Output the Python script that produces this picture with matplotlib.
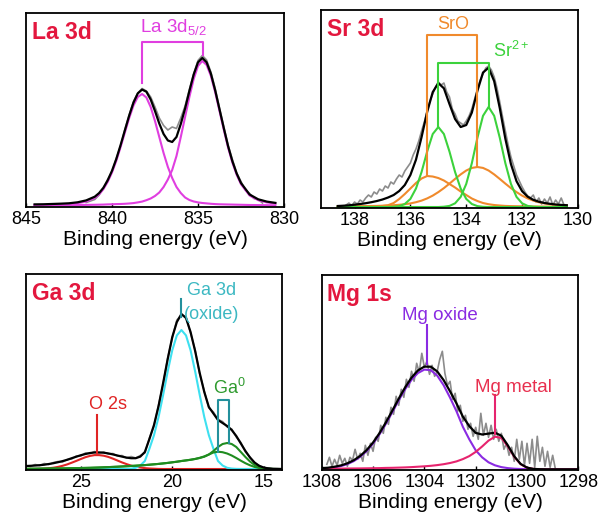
import numpy as np
import matplotlib
matplotlib.use("Agg")
import matplotlib.pyplot as plt

plt.rcParams['font.family'] = ['Liberation Sans', 'DejaVu Sans']
plt.rcParams['mathtext.fontset'] = 'custom'
plt.rcParams['mathtext.rm'] = 'Liberation Sans'
plt.rcParams['mathtext.it'] = 'Liberation Sans:italic'

# ---------------- La 3d ----------------
la_e = [844.5, 844.0, 843.5, 843.0, 842.5, 842.0, 841.5, 841.0, 840.75, 840.5,
        840.25, 840.0, 839.75, 839.5, 839.25, 839.0, 838.75, 838.5, 838.25, 838.0,
        837.75, 837.5, 837.25, 837.0, 836.75, 836.5, 836.25, 836.0, 835.75, 835.5,
        835.25, 835.0, 834.75, 834.5, 834.25, 834.0, 833.75, 833.5, 833.25, 833.0,
        832.75, 832.5, 832.0, 831.5, 831.0, 830.5]
la_peak1 = [1.0, 1.1, 1.3, 1.6, 1.9, 2.8, 4.5, 8.1, 11.6, 16.8,
            24.1, 33.5, 45.1, 58.9, 73.5, 87.9, 100.5, 109.0, 112.0, 108.5,
            99.0, 85.0, 69.0, 53.0, 39.0, 28.0, 19.0, 13.0, 8.5, 6.0,
            4.5, 3.6, 3.0, 2.6, 2.2, 1.9, 1.7, 1.6, 1.5, 1.4,
            1.3, 1.2, 1.0, 0.9, 0.8, 0.6]
la_peak2 = [0.6, 0.6, 0.7, 0.7, 0.8, 0.9, 1.1, 1.2, 1.3, 1.4,
            1.6, 1.7, 1.9, 2.0, 2.2, 2.5, 2.9, 3.6, 4.4, 5.8,
            7.5, 10.0, 13.5, 19.0, 26.5, 36.0, 50.0, 69.0, 89.0, 109.0,
            127.0, 140.0, 145.0, 141.1, 130.1, 113.8, 95.1, 76.3, 58.4, 43.4,
            31.2, 21.8, 10.5, 5.8, 3.6, 2.5]
la_fit = [1.6, 1.7, 2.0, 2.3, 2.7, 3.7, 5.6, 9.3, 12.9, 18.2,
          25.7, 35.2, 47.0, 60.9, 75.7, 90.4, 103.4, 112.6, 116.4, 114.3,
          106.5, 95.0, 82.5, 72.0, 65.5, 64.0, 69.0, 82.0, 97.5, 115.0,
          131.5, 143.6, 148.0, 143.7, 132.3, 115.7, 96.8, 77.9, 59.9, 44.8,
          32.5, 23.0, 11.5, 6.7, 4.4, 3.1]
la_raw_e = [841.5, 841.25, 841.0, 840.75, 840.5, 840.25, 840.0, 839.75, 839.5, 839.25,
            839.0, 838.75, 838.5, 838.25, 838.0, 837.75, 837.5, 837.25, 837.0, 836.75,
            836.5, 836.25, 836.0, 835.75, 835.5, 835.25, 835.0, 834.75, 834.5, 834.25,
            834.0, 833.75, 833.5, 833.25, 833.0, 832.75, 832.5, 832.25, 832.0, 831.75,
            831.5, 831.25]
la_raw = [3.5, 5.0, 6.5, 11.0, 17.5, 26.5, 34.0, 47.5, 60.0, 76.5,
          91.0, 104.5, 113.0, 117.5, 115.0, 109.0, 99.0, 88.0, 80.5, 76.0,
          79.0, 77.5, 88.0, 100.0, 116.5, 132.0, 145.5, 150.5, 146.0, 134.0,
          117.5, 98.0, 79.5, 61.0, 46.5, 33.0, 24.5, 16.0, 12.5, 7.5,
          6.5, 3.0]

# ---------------- Sr 3d ----------------
sr_e = [138.6, 138.4, 138.2, 138.0, 137.8, 137.6, 137.4, 137.2, 137.0, 136.8,
        136.6, 136.4, 136.2, 136.0, 135.8, 135.6, 135.4, 135.2, 135.0, 134.8,
        134.6, 134.4, 134.2, 134.0, 133.8, 133.6, 133.4, 133.2, 133.0, 132.8,
        132.6, 132.4, 132.2, 132.0, 131.8, 131.6, 131.4, 131.2, 131.0, 130.8,
        130.6, 130.4]
sr_sro1 = [0.3, 0.3, 0.4, 0.4, 0.5, 0.5, 0.6, 0.7, 1.0, 1.8,
           4.0, 8.0, 13.0, 18.5, 24.0, 28.5, 31.0, 30.5, 29.0, 26.5,
           23.0, 19.5, 15.5, 12.0, 8.5, 6.0, 4.0, 2.8, 2.0, 1.5,
           1.1, 0.9, 0.8, 0.7, 0.6, 0.5, 0.5, 0.4, 0.4, 0.3,
           0.3, 0.3]
sr_sro2 = [0.6, 0.7, 0.7, 0.8, 0.8, 0.9, 1.0, 1.1, 1.3, 1.5,
           1.8, 2.2, 2.8, 3.6, 4.8, 6.4, 8.6, 11.4, 14.9, 18.9,
           23.4, 28.1, 32.6, 36.5, 39.1, 40.0, 39.1, 36.5, 32.6, 28.1,
           23.4, 18.9, 14.9, 11.4, 8.6, 6.4, 4.8, 3.6, 2.8, 2.2,
           1.8, 1.5]
sr_sr1 = [0, 0, 0, 0, 0, 0, 0, 0, 0, 0,
          0.2, 0.9, 3.0, 8.1, 18.5, 35.0, 55.4, 73.0, 80.0, 73.0,
          55.4, 35.0, 18.5, 8.1, 3.0, 0.9, 0.2, 0, 0, 0,
          0, 0, 0, 0, 0, 0, 0, 0, 0, 0,
          0, 0]
sr_sr2 = [0, 0, 0, 0, 0, 0, 0, 0, 0, 0,
          0, 0, 0, 0, 0, 0, 0, 0, 0, 0.3,
          1.1, 3.7, 10.1, 23.1, 43.8, 69.3, 91.2, 100.0, 91.2, 69.3,
          43.8, 23.1, 10.1, 3.7, 1.1, 0.3, 0, 0, 0, 0,
          0, 0]
sr_fit = [1.0, 1.3, 1.7, 2.3, 3.0, 3.8, 4.8, 6.0, 7.5, 9.5,
          12.0, 16.0, 22.0, 32.0, 47.3, 69.9, 95.0, 114.9, 123.9, 118.7,
          102.9, 88.0, 80.0, 82.0, 94.4, 116.2, 134.5, 139.3, 125.8, 98.9,
          68.3, 42.9, 25.8, 15.8, 10.3, 7.2, 5.3, 4.0, 3.2, 2.5,
          2.1, 1.8]
sr_raw_e = [138.3, 138.2, 138.1, 138.0, 137.9, 137.8, 137.7, 137.6, 137.5, 137.4,
            137.3, 137.2, 137.1, 137.0, 136.9, 136.8, 136.7, 136.6, 136.5, 136.4,
            136.3, 136.2, 136.1, 136.0, 135.9, 135.8, 135.7, 135.6, 135.5, 135.4,
            135.3, 135.2, 135.1, 135.0, 134.9, 134.8, 134.7, 134.6, 134.5, 134.4,
            134.3, 134.2, 134.1, 134.0, 133.9, 133.8, 133.7, 133.6, 133.5, 133.4,
            133.3, 133.2, 133.1, 133.0, 132.9, 132.8, 132.7, 132.6, 132.5, 132.4,
            132.3, 132.2, 132.1, 132.0, 131.9, 131.8, 131.7, 131.6, 131.5, 131.4,
            131.3, 131.2, 131.1, 131.0, 130.9, 130.8, 130.7, 130.6, 130.5]
sr_raw = [2, 4, 1, 5, 3, 7, 5, 9, 12, 10,
          15, 13, 18, 16, 21, 19, 25, 23, 28, 32,
          30, 36, 40, 44, 52, 58, 66, 76, 85, 96,
          106, 113, 120, 125, 122, 124, 115, 110, 98, 93,
          86, 84, 82, 86, 91, 98, 108, 118, 127, 133,
          139, 141, 137, 130, 119, 105, 90, 76, 62, 50,
          41, 32, 26, 20, 15, 11, 9, 12, 5, 9,
          3, 8, 4, 10, 2, 7, 3, 9, 2]

# ---------------- Ga 3d ----------------
ga_e = [28.0, 27.75, 27.5, 27.25, 27.0, 26.75, 26.5, 26.25, 26.0, 25.75,
        25.5, 25.25, 25.0, 24.75, 24.5, 24.25, 24.0, 23.75, 23.5, 23.25,
        23.0, 22.75, 22.5, 22.25, 22.0, 21.75, 21.5, 21.25, 21.0, 20.75,
        20.5, 20.25, 20.0, 19.75, 19.5, 19.25, 19.0, 18.75, 18.5, 18.25,
        18.0, 17.75, 17.5, 17.25, 17.0, 16.75, 16.5, 16.25, 16.0, 15.75,
        15.5, 15.25, 15.0, 14.75, 14.5, 14.25, 14.0]
ga_o2s = [0.0, 0.1, 0.1, 0.2, 0.4, 0.8, 1.3, 2.1, 3.2, 4.6,
          6.3, 8.1, 10.0, 11.8, 13.1, 13.9, 13.9, 13.3, 12.1, 10.4,
          8.5, 6.6, 4.9, 3.4, 2.3, 1.5, 0.9, 0.5, 0.3, 0.1,
          0, 0, 0, 0, 0, 0, 0, 0, 0, 0,
          0, 0, 0, 0, 0, 0, 0, 0, 0, 0,
          0, 0, 0, 0, 0, 0, 0]
ga_oxide = [0, 0, 0, 0, 0, 0, 0, 0, 0, 0,
            0, 0, 0, 0, 0, 0, 0, 0, 0, 0,
            0, 0, 0.1, 0.4, 1.2, 3.5, 8.0, 20.3, 33.8, 52.0,
            74.1, 97.6, 118.8, 133.6, 139.0, 133.6, 118.8, 97.6, 74.1, 52.0,
            33.8, 20.3, 8.0, 3.5, 1.2, 0.4, 0.1, 0, 0, 0,
            0, 0, 0, 0, 0, 0, 0]
ga_metal_a = [0.2, 0.25, 0.3, 0.35, 0.4, 0.45, 0.5, 0.55, 0.6, 0.7,
              0.8, 0.9, 1.0, 1.1, 1.2, 1.35, 1.5, 1.7, 1.9, 2.1,
              2.3, 2.55, 2.8, 3.05, 3.3, 3.6, 3.9, 4.3, 4.7, 5.1,
              5.6, 6.1, 6.7, 7.3, 8.0, 8.6, 9.2, 10.0, 11.0, 12.3,
              14.5, 18.0, 22.0, 25.0, 26.0, 25.0, 22.0, 17.0, 12.0, 7.5,
              4.0, 2.0, 0.8, 0.3, 0.1, 0, 0]
ga_metal_b = [0.2, 0.25, 0.3, 0.35, 0.4, 0.45, 0.5, 0.55, 0.6, 0.7,
              0.8, 0.9, 1.0, 1.1, 1.2, 1.35, 1.5, 1.7, 1.9, 2.1,
              2.3, 2.55, 2.8, 3.05, 3.3, 3.6, 3.9, 4.3, 4.7, 5.1,
              5.6, 6.1, 6.7, 7.3, 8.0, 8.6, 9.3, 10.1, 11.2, 12.6,
              14.5, 16.5, 17.3, 16.8, 15.5, 13.5, 11.0, 8.3, 5.8, 3.7,
              2.1, 1.0, 0.4, 0.1, 0, 0, 0]
ga_fit = [3.0, 3.2, 3.5, 3.8, 4.3, 5.0, 5.8, 6.8, 7.9, 9.2,
          10.8, 12.3, 13.8, 15.0, 16.0, 16.5, 16.6, 16.3, 15.6, 14.6,
          13.5, 12.4, 11.4, 10.8, 10.8, 12.4, 17.0, 30.0, 44.0, 63.0,
          86.0, 110.0, 132.0, 147.0, 155.0, 151.0, 137.0, 118.0, 96.0, 77.0,
          62.0, 55.5, 49.0, 46.0, 43.0, 39.0, 33.0, 25.5, 18.0, 11.5,
          6.5, 3.2, 1.5, 0.6, 0.2, 0, 0]
ga_raw = [3.5, 2.5, 4.5, 3.5, 5.5, 4.5, 6.5, 7.5, 7.0, 9.5,
          10.0, 13.0, 13.0, 16.0, 15.5, 17.5, 16.0, 17.0, 15.0, 15.5,
          13.0, 13.5, 11.0, 12.5, 11.0, 13.5, 16.0, 31.0, 43.0, 64.0,
          85.0, 111.0, 131.0, 149.0, 154.0, 152.0, 136.0, 119.0, 95.0, 78.0,
          61.0, 57.0, 49.5, 47.5, 42.0, 40.0, 32.0, 26.5, 17.0, 12.0,
          6.0, 3.5, 1.0, 1.2, 0.2, 0.5, 0]

# ---------------- Mg 1s ----------------
mg_e = [1308.0, 1307.75, 1307.5, 1307.25, 1307.0, 1306.75, 1306.5, 1306.25, 1306.0, 1305.75,
        1305.5, 1305.25, 1305.0, 1304.75, 1304.5, 1304.25, 1304.0, 1303.75, 1303.5, 1303.25,
        1303.0, 1302.75, 1302.5, 1302.25, 1302.0, 1301.75, 1301.5, 1301.25, 1301.0, 1300.75,
        1300.5, 1300.25, 1300.0, 1299.75, 1299.5, 1299.25, 1299.0, 1298.75, 1298.5, 1298.25,
        1298.0]
mg_oxide = [0.6, 1.0, 1.9, 3.2, 5.2, 8.2, 12.5, 18.2, 25.7, 34.9,
            45.5, 57.1, 68.9, 80.0, 89.5, 96.3, 99.7, 99.1, 93.7, 84.1,
            71.7, 58.1, 42.5, 30.0, 19.0, 12.0, 7.0, 4.0, 2.2, 1.2,
            0.6, 0.3, 0.1, 0, 0, 0, 0, 0, 0, 0,
            0]
mg_metal = [0.55, 0.6, 0.65, 0.7, 0.8, 0.85, 0.9, 1.0, 1.1, 1.2,
            1.4, 1.5, 1.7, 1.9, 2.2, 2.6, 3.0, 3.5, 4.2, 5.1,
            6.3, 7.9, 10.2, 13.2, 17.4, 22.8, 28.7, 32.6, 31.4, 22.9,
            12.5, 5.1, 1.6, 0.4, 0.1, 0, 0, 0, 0, 0,
            0]
mg_fit = [1.2, 1.6, 2.6, 3.9, 6.0, 9.1, 13.4, 19.2, 26.8, 36.1,
          46.9, 58.6, 70.6, 81.9, 91.7, 98.9, 102.7, 102.6, 97.9, 89.2,
          78.0, 66.0, 52.7, 43.2, 36.4, 34.8, 35.7, 36.6, 33.6, 24.1,
          13.1, 5.4, 1.7, 0.4, 0.1, 0, 0, 0, 0, 0,
          0]
mg_raw_e = [1307.8, 1307.7, 1307.6, 1307.5, 1307.4, 1307.3, 1307.2, 1307.1, 1307.0, 1306.9,
            1306.8, 1306.7, 1306.6, 1306.5, 1306.4, 1306.3, 1306.2, 1306.1, 1306.0, 1305.9,
            1305.8, 1305.7, 1305.6, 1305.5, 1305.4, 1305.3, 1305.2, 1305.1, 1305.0, 1304.9,
            1304.8, 1304.7, 1304.6, 1304.5, 1304.4, 1304.3, 1304.2, 1304.1, 1304.0, 1303.9,
            1303.8, 1303.7, 1303.6, 1303.5, 1303.4, 1303.3, 1303.2, 1303.1, 1303.0, 1302.9,
            1302.8, 1302.7, 1302.6, 1302.5, 1302.4, 1302.3, 1302.2, 1302.1, 1302.0, 1301.9,
            1301.8, 1301.7, 1301.6, 1301.5, 1301.4, 1301.3, 1301.2, 1301.1, 1301.0, 1300.9,
            1300.8, 1300.7, 1300.6, 1300.5, 1300.4, 1300.3, 1300.2, 1300.1, 1300.0, 1299.9,
            1299.8, 1299.7, 1299.6, 1299.5, 1299.4, 1299.3, 1299.2, 1299.1, 1299.0, 1298.9]
mg_raw = [5, 12, 3, 10, 4, 14, 6, 11, 3, 12,
          9, 20, 10, 16, 8, 24, 14, 26, 18, 32,
          28, 44, 36, 52, 45, 62, 55, 73, 64, 80,
          72, 90, 82, 98, 88, 106, 97, 116, 102, 108,
          95, 104, 93, 98, 110, 118, 96, 84, 88, 70,
          76, 58, 64, 48, 54, 40, 46, 33, 42, 30,
          56, 34, 46, 32, 44, 30, 40, 28, 36, 20,
          26, 14, 22, 8, 30, 10, 28, 4, 26, 6,
          30, 2, 33, 8, 22, 3, 18, 2, 14, 1]

TITLE_RED = '#e3173e'
RAW_GREY = '#8c8c8c'


def setup(ax, xlim, ticks, ylim, title):
    ax.set_xlim(*xlim)
    ax.set_ylim(*ylim)
    ax.set_xticks(ticks)
    ax.set_yticks([])
    ax.tick_params(axis='x', direction='in', length=3, width=1, labelsize=13, pad=3)
    ax.set_xlabel('Binding energy (eV)', fontsize=15, labelpad=1)
    for s in ax.spines.values():
        s.set_linewidth(1.3)
    ax.text(0.022, 0.90, title, transform=ax.transAxes, fontsize=16.5,
            fontweight='bold', color=TITLE_RED, ha='left', va='center')


fig = plt.figure(figsize=(6.0, 5.14), dpi=100)
ax1 = fig.add_axes([0.0433, 0.5973, 0.43, 0.3774])
ax2 = fig.add_axes([0.535, 0.5953, 0.4283, 0.3852])
ax3 = fig.add_axes([0.0433, 0.085, 0.4267, 0.3825])
ax4 = fig.add_axes([0.5362, 0.085, 0.4277, 0.3794])

# La 3d
mag = '#e03ee0'
ax1.plot(la_raw_e, la_raw, color=RAW_GREY, lw=1.2)
ax1.plot(la_e, la_peak1, color=mag, lw=1.5)
ax1.plot(la_e, la_peak2, color=mag, lw=1.5)
ax1.plot(la_e, la_fit, color='black', lw=1.6)
ax1.plot([838.25, 838.25, 834.7, 834.7], [123, 164, 164, 151], color=mag, lw=1.5)
ax1.text(838.4, 174, 'La 3d$_{5/2}$', color=mag, fontsize=13.5, ha='left', va='baseline')
setup(ax1, (845, 830), [845, 840, 835, 830], (-1, 193), 'La 3d')

# Sr 3d
orange = '#f08a2c'
green = '#3cd23c'
ax2.plot(sr_raw_e, sr_raw, color=RAW_GREY, lw=1.2)
ax2.plot(sr_e, sr_sro1, color=orange, lw=1.5)
ax2.plot(sr_e, sr_sro2, color=orange, lw=1.5)
ax2.plot(sr_e, sr_sr1, color=green, lw=1.5)
ax2.plot(sr_e, sr_sr2, color=green, lw=1.5)
ax2.plot(sr_e, sr_fit, color='black', lw=1.6)
ax2.plot([135.4, 135.4, 133.6, 133.6], [32, 172, 172, 41], color=orange, lw=1.5)
ax2.plot([135.0, 135.0, 133.2, 133.2], [81, 143.7, 143.7, 100], color=green, lw=1.5)
ax2.text(134.45, 177.7, 'SrO', color=orange, fontsize=13, ha='center', va='baseline')
ax2.text(133.04, 150, 'Sr$^{2+}$', color=green, fontsize=13, ha='left', va='baseline')
setup(ax2, (139.2, 130), [138, 136, 134, 132, 130], (-1, 197), 'Sr 3d')

# Ga 3d
ga_red = '#e02424'
cyan = '#3ee0f0'
dgreen = '#1f8c1f'
teal = '#23909c'
ax3.plot(ga_e, ga_raw, color=RAW_GREY, lw=1.2)
ax3.plot(ga_e, ga_o2s, color=ga_red, lw=1.5)
ax3.plot(ga_e, ga_oxide, color=cyan, lw=1.5)
ax3.plot(ga_e, ga_metal_a, color=dgreen, lw=1.5)
ax3.plot(ga_e, ga_metal_b, color=dgreen, lw=1.5)
ax3.plot(ga_e, ga_fit, color='black', lw=1.6)
ax3.plot([24.09, 24.09], [16, 54], color=ga_red, lw=1.5)
ax3.text(23.5, 60, 'O 2s', color=ga_red, fontsize=13, ha='center', va='baseline')
ax3.plot([19.52, 19.52], [152, 170], color=teal, lw=1.5)
ax3.text(17.84, 173.7, 'Ga 3d', color='#3cb8c2', fontsize=13, ha='center', va='baseline')
ax3.text(17.84, 150.3, '(oxide)', color='#3cb8c2', fontsize=13, ha='center', va='baseline')
ax3.plot([17.5, 17.5, 16.9, 16.9], [17, 69, 69, 26], color=teal, lw=1.5)
ax3.text(17.8, 75, 'Ga$^{0}$', color='#2e9a2e', fontsize=13, ha='left', va='baseline')
setup(ax3, (28, 14), [25, 20, 15], (-1.3, 195.3), 'Ga 3d')

# Mg 1s
purple = '#8a2be2'
pink = '#e6246e'
ax4.plot(mg_raw_e, mg_raw, color=RAW_GREY, lw=1.2)
ax4.plot(mg_e, mg_oxide, color=purple, lw=1.5)
ax4.plot(mg_e, mg_metal, color=pink, lw=1.5)
ax4.plot(mg_e, mg_fit, color='black', lw=1.6)
ax4.plot([1303.91, 1303.91], [105.6, 144], color=purple, lw=1.5)
ax4.text(1303.39, 149.6, 'Mg oxide', color=purple, fontsize=13.5, ha='center', va='baseline')
ax4.plot([1301.25, 1301.25], [35.6, 74], color=pink, lw=1.5)
ax4.text(1300.53, 77.3, 'Mg metal', color='#e8304f', fontsize=13.5, ha='center', va='baseline')
setup(ax4, (1308, 1298), [1308, 1306, 1304, 1302, 1300, 1298], (-1, 194), 'Mg 1s')

fig.savefig('out.png', dpi=100)
